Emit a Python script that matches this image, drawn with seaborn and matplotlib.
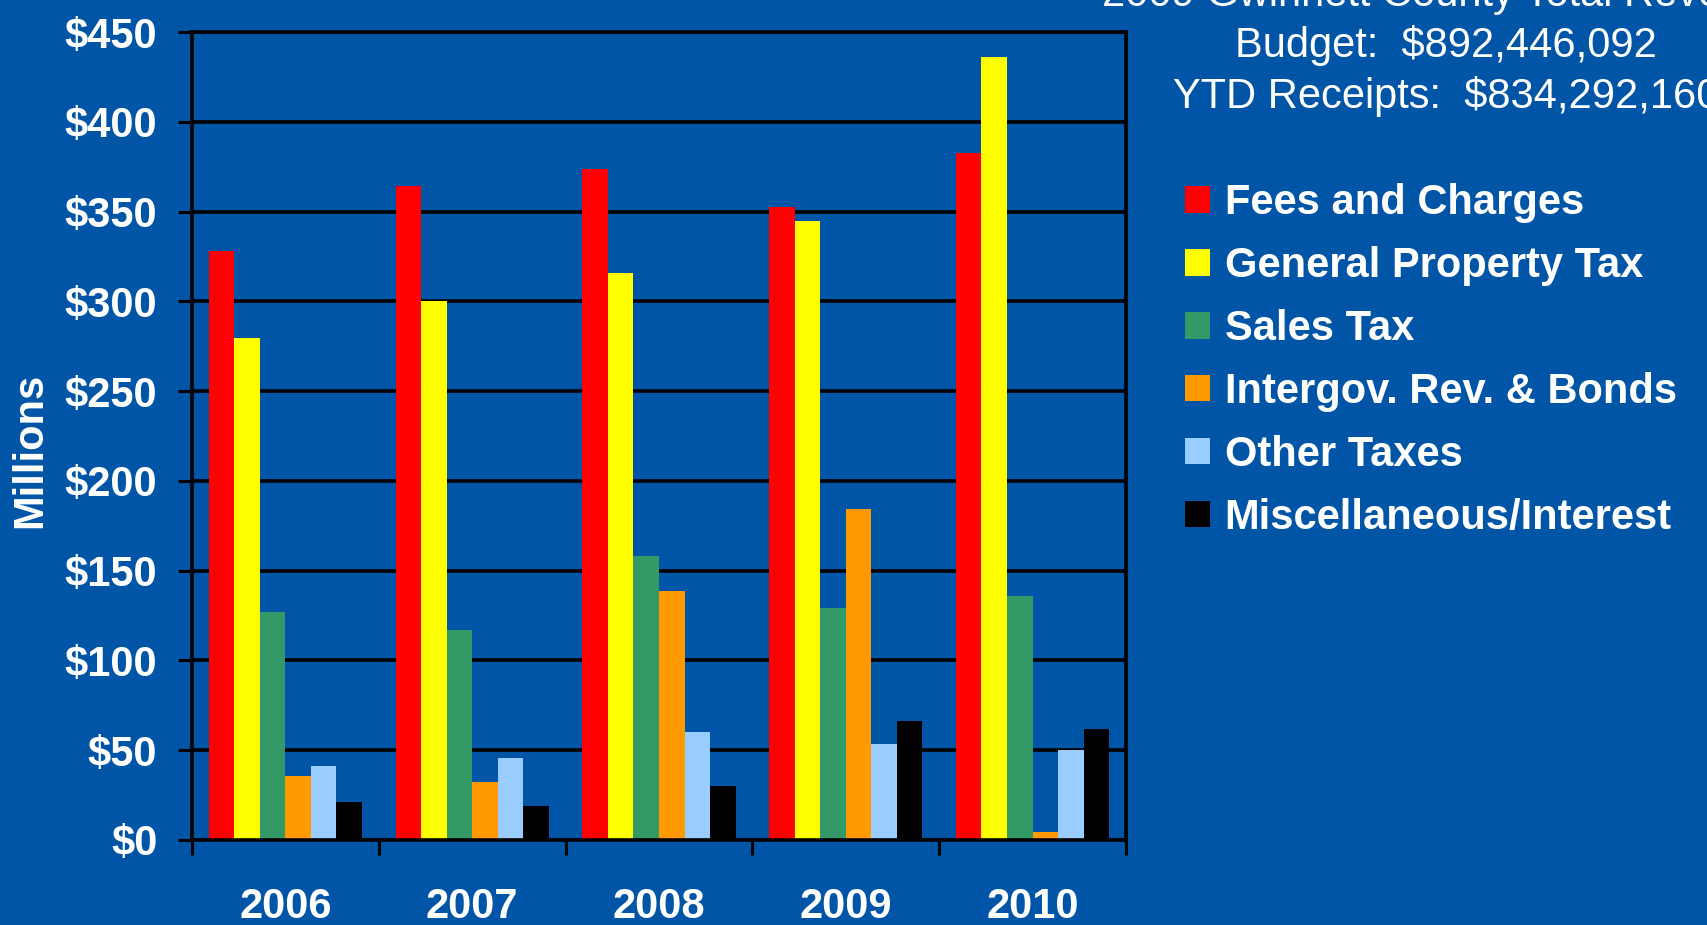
import pandas as pd
import seaborn as sns
import matplotlib.pyplot as plt
from matplotlib.ticker import FixedLocator

# Datos (millones de dólares)
years = ['2006', '2007', '2008', '2009', '2010']
fees = [328.0, 364.5, 373.5, 352.3, 382.6]
property_tax = [279.6, 300.0, 316.0, 345.0, 436.0]
sales_tax = [126.9, 116.9, 158.3, 129.0, 135.8]
intergov = [35.7, 32.3, 138.9, 184.4, 4.2]
other_taxes = [41.2, 45.7, 60.0, 53.4, 50.3]
misc = [21.4, 19.1, 30.3, 66.0, 61.9]

sources = ['Fees and Charges', 'General Property Tax', 'Sales Tax',
           'Intergov. Rev. & Bonds', 'Other Taxes', 'Miscellaneous/Interest']
colors = ['#FF0000', '#FFFF00', '#339966', '#FF9900', '#99CCFF', '#000000']
y_ticks = [0, 50, 100, 150, 200, 250, 300, 350, 400, 450]
y_labels = ['$0', '$50', '$100', '$150', '$200', '$250', '$300', '$350', '$400', '$450']
title_lines = ['2009 Gwinnett County Total Revenue',
               'Budget:  $892,446,092',
               'YTD Receipts:  $834,292,160']

series = [fees, property_tax, sales_tax, intergov, other_taxes, misc]
rows = []
for src, vals in zip(sources, series):
    for yr, v in zip(years, vals):
        rows.append({'Year': yr, 'Source': src, 'Value': v})
df = pd.DataFrame(rows)

bg = '#0055A6'
sns.set_style('white')
plt.rcParams['font.family'] = ['Liberation Sans', 'DejaVu Sans']

fig = plt.figure(figsize=(17.07, 9.25), dpi=100, facecolor=bg)
ax = fig.add_axes([0.1125, 0.0919, 0.5471, 0.8735])
ax.set_facecolor(bg)

sns.barplot(data=df, x='Year', y='Value', hue='Source', hue_order=sources,
            palette=colors, saturation=1, width=0.82, linewidth=0, ax=ax)

ax.set_ylim(0, 450)
ax.set_xlim(-0.5, 4.5)
ax.set_yticks(y_ticks)
ax.set_yticklabels(y_labels)
ax.yaxis.grid(True, color='black', linewidth=2.6)
ax.set_axisbelow(True)
for s in ax.spines.values():
    s.set_color('black')
    s.set_linewidth(2.6)

ax.tick_params(axis='y', left=True, direction='out', length=10, width=2.2,
               color='black', labelsize=30, labelcolor='white', pad=15)
ax.tick_params(axis='x', which='major', bottom=True, length=0, labelsize=30,
               labelcolor='white', pad=34)
ax.xaxis.set_minor_locator(FixedLocator([-0.5, 0.5, 1.5, 2.5, 3.5, 4.5]))
ax.tick_params(axis='x', which='minor', bottom=True, direction='out', length=11,
               width=2.2, color='black')
for lab in ax.get_xticklabels() + ax.get_yticklabels():
    lab.set_fontweight('bold')

ax.set_xlabel('')
ax.set_ylabel('Millions', fontsize=30, fontweight='bold', color='white')
ax.yaxis.set_label_coords(-0.152, 0.482)

handles, labels = ax.get_legend_handles_labels()
ax.legend(handles, labels, loc='upper left', bbox_to_anchor=(0.694, 0.802),
          bbox_transform=fig.transFigure, frameon=False,
          prop={'size': 30, 'weight': 'bold'}, labelcolor='white',
          handlelength=0.6, handleheight=0.6, handletextpad=0.36,
          labelspacing=0.55, borderpad=0, borderaxespad=0)

for line, yb in zip(title_lines, [0.993, 0.938, 0.883]):
    fig.text(0.847, yb, line, ha='center', va='baseline', fontsize=30, color='white')

fig.savefig('out.png', dpi=100, facecolor=bg)
